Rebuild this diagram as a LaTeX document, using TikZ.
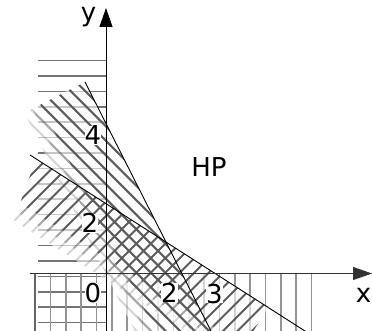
\documentclass[tikz,border=0pt]{standalone}
\usepackage{fontspec}
\setmainfont{DejaVu Sans}
\usetikzlibrary{arrows.meta}
\newcommand\hatchNW{\foreach \k in {-30,...,14} \draw[hatchline] ({-20.3+14.5*\k-60},-60) -- ({-20.3+14.5*\k+460},460);}
\newcommand\hatchNE{\foreach \k in {6,...,48} \draw[hatchline] ({3+14.5*\k+60},-60) -- ({3+14.5*\k-460},460);}
\begin{document}
\begin{tikzpicture}[x=1pt,y=-1pt,
  hline/.style={black!55,line width=1.6pt},
  vline/.style={black!42,line width=1.6pt},
  hatchline/.style={black!64,line width=2.1pt},
  bound/.style={black,line width=0.9pt},
  axisline/.style={line width=1pt,-{Triangle[length=19pt,width=13pt]}},
  lab/.style={font=\fontsize{26}{26}\selectfont, fill=white, inner sep=0pt, anchor=base},
]
\useasboundingbox (0,0) rectangle (372,331);

% shaded-out half planes
\foreach \y in {60.7,76.1,...,323} \draw[hline] (37.5,\y) -- (105.5,\y);
\foreach \x in {50.37,65.74,...,313} \draw[vline] (\x,274) -- (\x,335);
\draw[vline,black!60,line width=2pt] (35,274) -- (35,335);

% band A (along line 1)
\coordinate (A0) at (85,82);     \coordinate (A0e) at (220.5,349.75);
\coordinate (A1) at (40.4,104.6); \coordinate (A1e) at (175.9,372.35);
\coordinate (A2) at (32.3,108.6); \coordinate (A2e) at (167.8,376.4);
\coordinate (A3) at (24.3,112.7); \coordinate (A3e) at (159.8,380.45);
% band B (along line 2)
\coordinate (B0) at (36,159);     \coordinate (B0e) at (268.4,307.5);
\coordinate (B1) at (20,203.3);   \coordinate (B1e) at (243.6,346.2);
\coordinate (B2) at (16.9,212);   \coordinate (B2e) at (238.8,353.8);
\coordinate (B3) at (13.8,220.7); \coordinate (B3e) at (233.9,361.4);

\fill[white,opacity=0.6] (A0) -- (A0e) -- (A3e) -- (A3) -- cycle;
\fill[white,opacity=0.6] (B0) -- (B0e) -- (B3e) -- (B3) -- cycle;

\begin{scope}\clip (A0) -- (A0e) -- (A1e) -- (A1) -- cycle; \hatchNW \end{scope}
\begin{scope}[opacity=0.55]\clip (A1) -- (A1e) -- (A2e) -- (A2) -- cycle; \hatchNW \end{scope}
\begin{scope}[opacity=0.25]\clip (A2) -- (A2e) -- (A3e) -- (A3) -- cycle; \hatchNW \end{scope}

\begin{scope}\clip (B0) -- (B0e) -- (B1e) -- (B1) -- cycle; \hatchNE \end{scope}
\begin{scope}[opacity=0.55]\clip (B1) -- (B1e) -- (B2e) -- (B2) -- cycle; \hatchNE \end{scope}
\begin{scope}[opacity=0.25]\clip (B2) -- (B2e) -- (B3e) -- (B3) -- cycle; \hatchNE \end{scope}

% boundary lines
\coordinate (L1s) at (85,82);  \coordinate (L1e) at (213,335);
\coordinate (L2s) at (30,155); \coordinate (L2e) at (307,332.3);
\draw[bound] (L1s) -- (L1e);
\draw[bound] (L2s) -- (L2e);

% axes
\coordinate (xs) at (30,273.5); \coordinate (xe) at (372,273.5);
\coordinate (ys) at (106,335);  \coordinate (ye) at (106,8);
\draw[axisline,black!80] (xs) -- (xe);
\draw[axisline] (ys) -- (ye);

% labels
\node[lab] (ly)  at (88.5,22)  {y};
\node[lab] (l4)  at (93,145)   {4};
\node[lab] (l2y) at (90,233)   {2};
\node[lab] (l0)  at (93,302.5) {0};
\node[lab] (l2x) at (169.5,302) {2};
\node[lab] (l3)  at (214.5,303) {3};
\node[lab] (lx)  at (363.5,302) {x};
\node[lab] (hp)  at (209,176.7) {HP};
\end{tikzpicture}
\end{document}
